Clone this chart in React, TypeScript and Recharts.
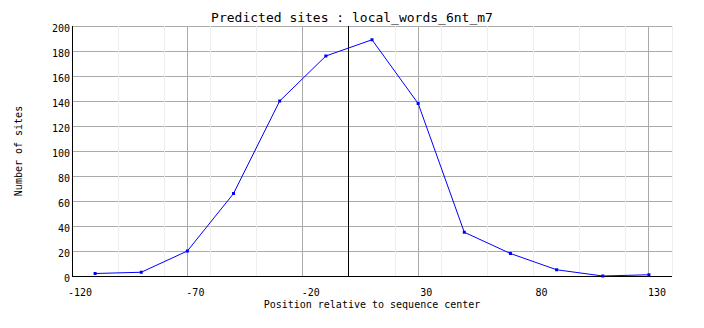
import React from 'react';
import { LineChart, Line, XAxis, YAxis, CartesianGrid, ReferenceLine } from 'recharts';

const positions = [-110, -90, -70, -50, -30, -10, 10, 30, 50, 70, 90, 110, 130];
const siteCounts = [2, 3, 20, 66, 140, 176, 189, 138, 35, 18, 5, 0, 1];
const xTicks = [-120, -70, -20, 30, 80, 130];
const yTicks = [0, 20, 40, 60, 80, 100, 120, 140, 160, 180, 200];
const minorX = [-100, -80, -60, -40, 0, 20, 40, 60, 80, 100, 120, 140];

const data = positions.map((p, i) => ({ pos: p, sites: siteCounts[i] }));

const FONT = '"DejaVu Sans Mono", monospace';

const SquareDot = (props: any) => {
  const { cx, cy } = props;
  if (cx == null || cy == null) return null;
  return <rect x={cx - 1.5} y={cy - 1.5} width={3} height={3} fill="#0000ff" />;
};

const XTick = (props: any) => {
  const { x, y, payload } = props;
  return (
    <text x={x + 8} y={y + 12} textAnchor="middle" fontFamily={FONT} fontSize={10} fill="#000">
      {payload.value}
    </text>
  );
};

const YTick = (props: any) => {
  const { x, y, payload } = props;
  return (
    <text x={x} y={y + 6} textAnchor="end" fontFamily={FONT} fontSize={10} fill="#000">
      {payload.value}
    </text>
  );
};

export default function App() {
  return (
    <div style={{ position: 'absolute', left: 0, top: 0, width: 704, height: 328, background: '#fff' }}>
      <div
        style={{
          position: 'absolute',
          left: 0,
          top: 10,
          width: 704,
          textAlign: 'center',
          fontFamily: FONT,
          fontSize: 13,
          lineHeight: '16px',
          color: '#000',
        }}
      >
        Predicted sites : local_words_6nt_m7
      </div>
      <LineChart
        width={704}
        height={328}
        data={data}
        margin={{ top: 26, right: 32, bottom: 22, left: 12 }}
      >
        <CartesianGrid stroke="#aaaaaa" strokeWidth={1} shapeRendering="crispEdges" />
        {minorX.map((v) => (
          <ReferenceLine key={v} x={v} stroke="#eeeeee" strokeWidth={1} shapeRendering="crispEdges" />
        ))}
        <ReferenceLine x={0} stroke="#000000" strokeWidth={1} shapeRendering="crispEdges" />
        <XAxis
          dataKey="pos"
          type="number"
          domain={[-120, 140]}
          ticks={xTicks}
          tickLine={false}
          axisLine={{ stroke: '#000', strokeWidth: 1, shapeRendering: 'crispEdges' }}
          tick={<XTick />}
          height={30}
          allowDataOverflow
          label={{
            value: 'Position relative to sequence center',
            position: 'insideBottom',
            offset: -2,
            style: { fontFamily: FONT, fontSize: 10, fill: '#000' },
          }}
        />
        <YAxis
          type="number"
          domain={[0, 200]}
          ticks={yTicks}
          tickLine={false}
          tickSize={0}
          axisLine={{ stroke: '#000', strokeWidth: 1, shapeRendering: 'crispEdges' }}
          tick={<YTick />}
          width={60}
          label={{
            value: 'Number of sites',
            angle: -90,
            position: 'insideLeft',
            offset: 6,
            style: { fontFamily: FONT, fontSize: 10, fill: '#000', textAnchor: 'middle' },
          }}
        />
        <Line
          type="linear"
          dataKey="sites"
          stroke="#0000ff"
          strokeWidth={1}
          dot={<SquareDot />}
          activeDot={false}
          isAnimationActive={false}
        />
      </LineChart>
    </div>
  );
}
